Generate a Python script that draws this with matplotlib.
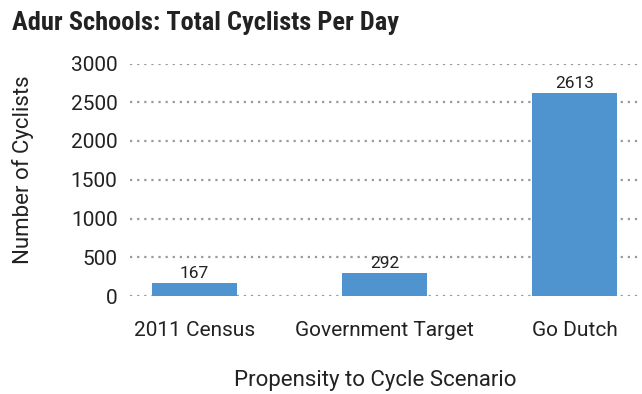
import matplotlib
matplotlib.use("Agg")
import matplotlib.pyplot as plt

plt.rcParams['font.family'] = ['Roboto', 'DejaVu Sans']

scenarios = ['2011 Census', 'Government Target', 'Go Dutch']
cyclists = [167, 292, 2613]
yticks = [0, 500, 1000, 1500, 2000, 2500, 3000]

fig = plt.figure(figsize=(6.42, 3.94), dpi=100)
ax = fig.add_axes([130/642, 1 - 296/394, 512/642, (296 - 63.5)/394])

x = range(len(scenarios))
bars = ax.bar(x, cyclists, width=0.447, color='#4f94cf', zorder=2)
for b, v in zip(bars, cyclists):
    ax.text(b.get_x() + b.get_width()/2, v + 30, str(v), ha='center', va='bottom',
            fontsize=12.5, color='#222222')

ax.set_xlim(-0.34, 2.355)
ax.set_ylim(0, 3000)
ax.set_yticks(yticks)
ax.set_xticks(list(x))
ax.set_xticklabels(scenarios)
ax.yaxis.grid(True, linestyle=(0, (1, 2.2)), color='#999999', linewidth=1.6, zorder=0)
ax.set_axisbelow(True)
for s in ax.spines.values():
    s.set_visible(False)
ax.tick_params(axis='both', length=0, labelsize=15, colors='#222222')
ax.tick_params(axis='x', pad=18)
ax.tick_params(axis='y', pad=9)

ax.set_ylabel('Number of Cyclists', fontsize=16, color='#222222')
ax.yaxis.set_label_coords(-0.188, 0.542)
ax.set_xlabel('Propensity to Cycle Scenario', fontsize=16, color='#222222')
ax.xaxis.set_label_coords(0.479, -0.318)

fig.text(12/642, 1 - 30/394, 'Adur Schools: Total Cyclists Per Day', fontsize=19,
         fontweight='bold', color='#222222', ha='left', va='baseline',
         family=['Roboto Condensed', 'Roboto'])

fig.savefig('out.png', dpi=100, facecolor='white')
